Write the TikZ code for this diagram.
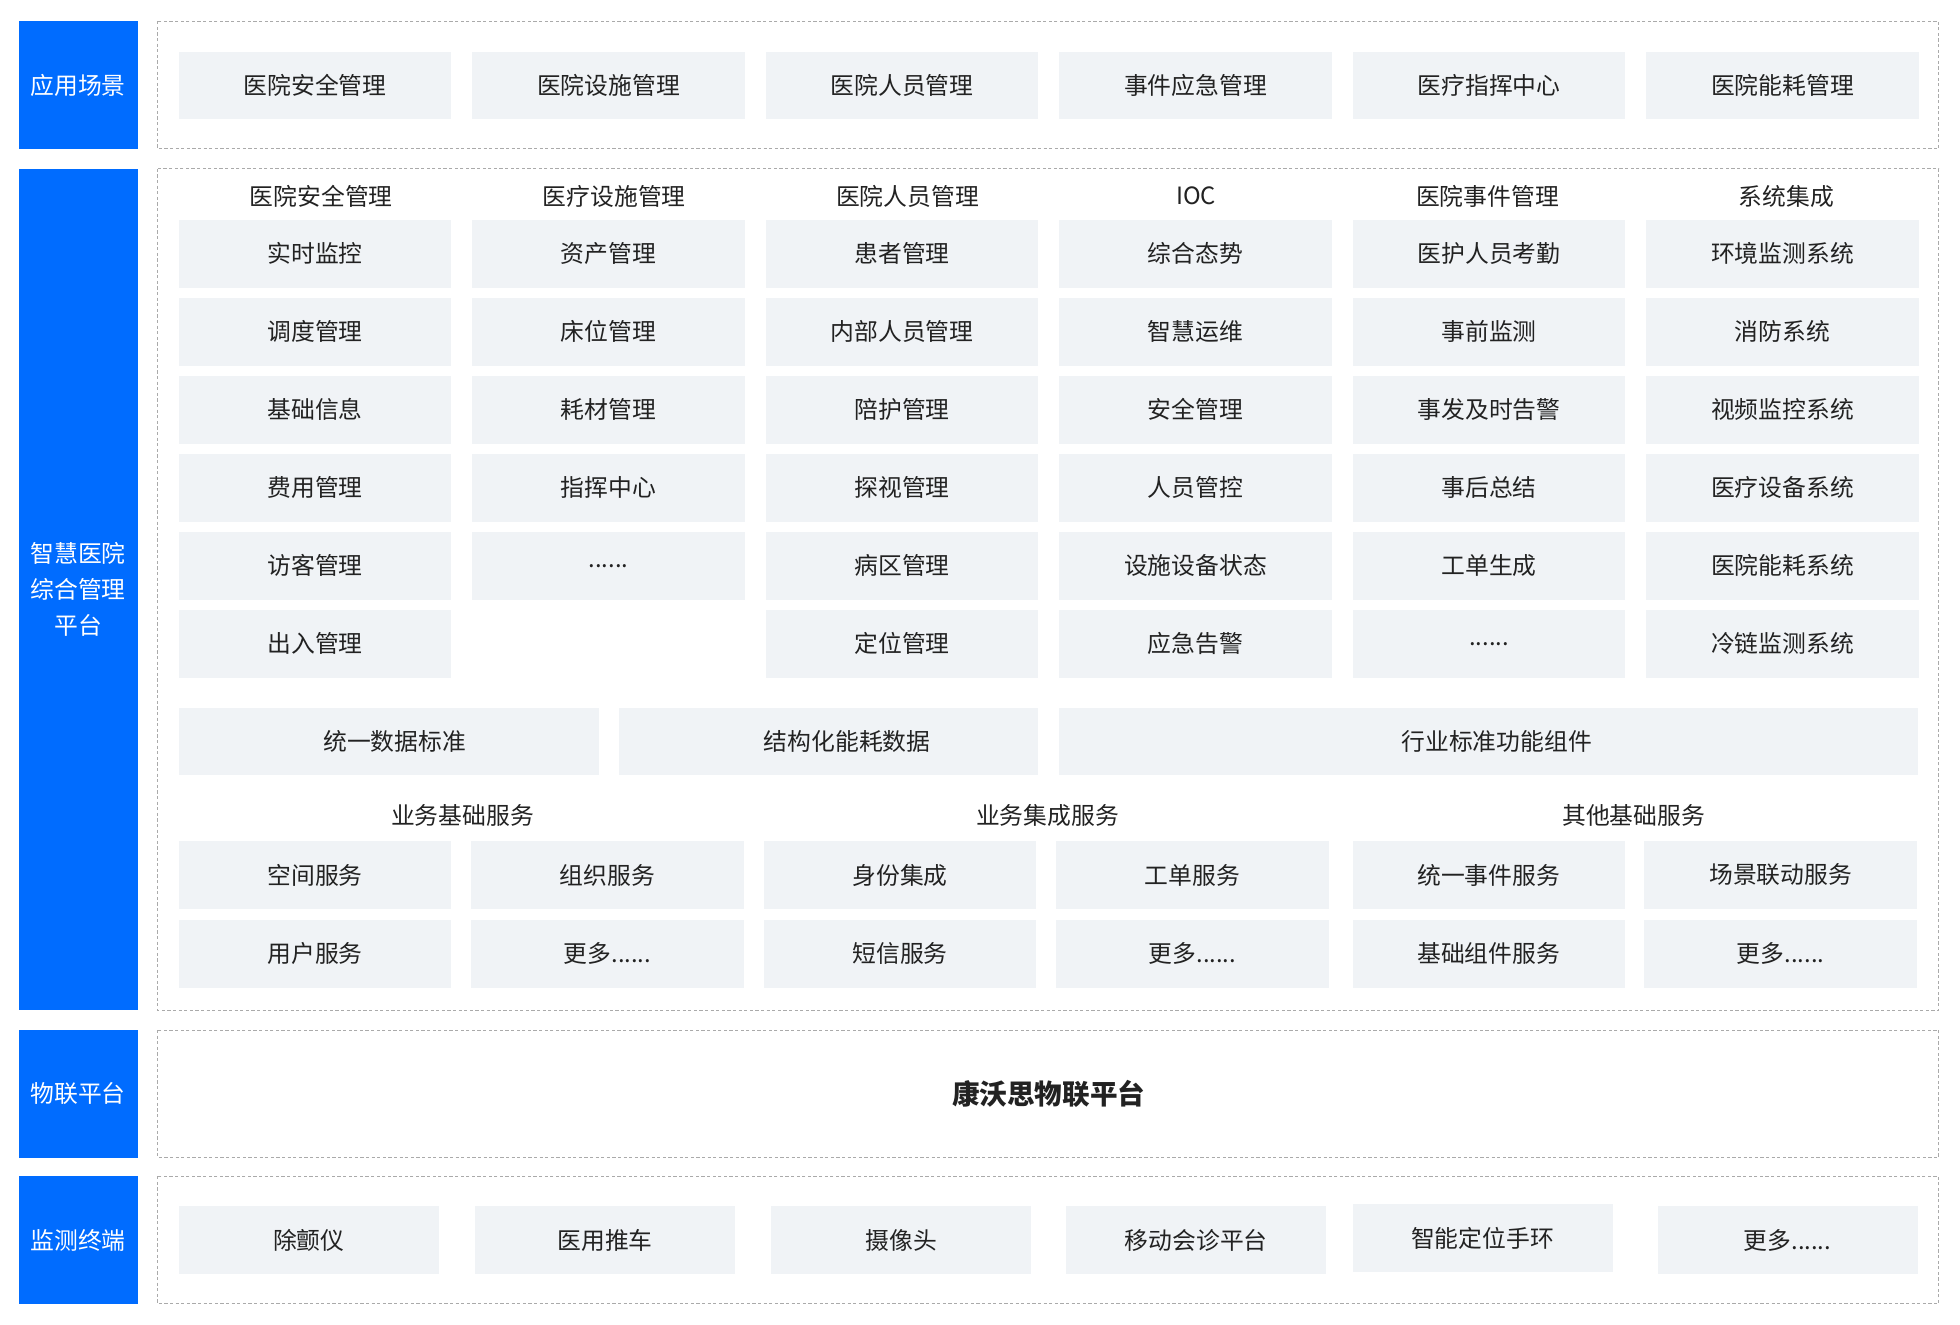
\documentclass[tikz,border=0pt]{standalone}
\usepackage{fontspec}
\setmainfont{Noto Sans CJK SC}
\usetikzlibrary{positioning}
\usepackage{xcolor}
\definecolor{iotblue}{RGB}{0,108,255}
\definecolor{cellgray}{RGB}{240,243,246}
\definecolor{framegray}{RGB}{170,170,170}
\definecolor{inkgray}{RGB}{34,34,34}
\newcommand\sixdots{......}

\begin{document}
\begin{tikzpicture}[x=0.625pt,y=-0.625pt,
    font=\fontsize{11.9}{15}\selectfont,
    cell/.style={fill=cellgray, text=inkgray, minimum width=136.25pt, minimum height=33.75pt, inner sep=0pt},
    devcell/.style={cell, minimum width=130pt},
    side/.style={fill=iotblue, text=white, minimum width=59.4pt, inner sep=0pt, align=center},
    title/.style={text=inkgray, inner sep=0pt},
    frame/.style={draw=framegray, line width=0.5pt, dash pattern=on 1.6pt off 1.2pt}]
    \useasboundingbox (0,0) rectangle (1568,1059.2);

    % left labels
    \node[side, minimum height=63.75pt] (lscene) at (62.5,68) {应用场景};
    \node[side, minimum height=420.6pt] (lplat) at (62.5,471.5) {智慧医院\\[3pt]综合管理\\[3pt]平台};
    \node[side, minimum height=63.75pt] (liot) at (62.5,875) {物联平台};
    \node[side, minimum height=63.75pt] (lterm) at (62.5,992) {监测终端};

    % dashed frames
    \draw[frame] (126,17) rectangle (1551,119);
    \draw[frame] (126,135) rectangle (1551,808);
    \draw[frame] (126,824) rectangle (1551,926);
    \draw[frame] (126,941) rectangle (1551,1043);

    % application scenes
    \foreach \t [count=\i] in {医院安全管理,医院设施管理,医院人员管理,事件应急管理,医疗指挥中心,医院能耗管理}
        \node[cell] (app\i) at ({252+234.8*(\i-1)},68.5) {\t};

    % platform modules
    \foreach \i/\hx/\h/\items in {
        1/257/医院安全管理/{实时监控,调度管理,基础信息,费用管理,访客管理,出入管理},
        2/491.5/医疗设施管理/{资产管理,床位管理,耗材管理,指挥中心,\sixdots},
        3/726/医院人员管理/{患者管理,内部人员管理,陪护管理,探视管理,病区管理,定位管理},
        4/957/IOC/{综合态势,智慧运维,安全管理,人员管控,设施设备状态,应急告警},
        5/1190/医院事件管理/{医护人员考勤,事前监测,事发及时告警,事后总结,工单生成,\sixdots},
        6/1429/系统集成/{环境监测系统,消防系统,视频监控系统,医疗设备系统,医院能耗系统,冷链监测系统}} {
        \node[title] (head\i) at (\hx,157) {\h};
        \foreach \t [count=\j] in \items
            \node[cell] (m\i-\j) at ({252+234.8*(\i-1)},{203+62.4*(\j-1)}) {\t};
    }

    % data layer
    \node[cell, minimum width=210pt] (std) at (311,593) {\hspace{6pt}统一数据标准};
    \node[cell, minimum width=209.4pt] (energy) at (662.5,593) {\hspace{19pt}结构化能耗数据};
    \node[cell, minimum width=429.4pt] (comp) at (1190.5,593) {\hspace{8.5pt}行业标准功能组件};

    % services
    \node[title] (svc1) at (370,652) {业务基础服务};
    \node[title] (svc2) at (838,652) {业务集成服务};
    \node[title] (svc3) at (1307,652) {其他基础服务};
    \foreach \x/\a/\b [count=\i] in {252/空间服务/用户服务, 486/组织服务/更多\sixdots, 720/身份集成/短信服务,
        954/工单服务/更多\sixdots, 1191/统一事件服务/基础组件服务, 1424.5/场景联动服务/更多\sixdots} {
        \node[cell] (s\i-1) at (\x,700) {\a};
        \node[cell] (s\i-2) at (\x,763) {\b};
    }

    % iot platform
    \node[title, font=\fontsize{13.8}{16}\selectfont\bfseries] (iot) at (839,875) {康沃思物联平台};

    % terminals
    \foreach \x/\y/\t [count=\i] in {247/992/除颤仪, 484/992/医用推车, 721/992/摄像头,
        957/992/移动会诊平台, 1186/990.5/智能定位手环, 1430/992/更多\sixdots}
        \node[devcell] (dev\i) at (\x,\y) {\t};
\end{tikzpicture}
\end{document}
